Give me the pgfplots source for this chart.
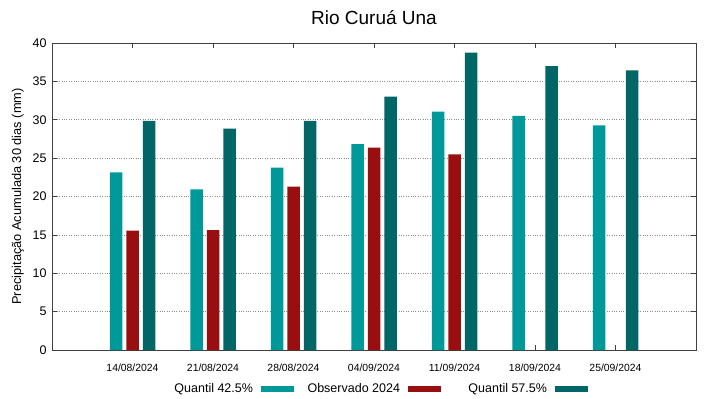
\documentclass[border=0pt]{standalone}
\usepackage{fontspec}
\setmainfont{Liberation Sans}
\usepackage{pgfplots}
\pgfplotsset{compat=1.18}
\definecolor{qlow}{RGB}{0,153,153}
\definecolor{obs}{RGB}{153,15,15}
\definecolor{qhigh}{RGB}{0,102,102}
\begin{document}
\begin{tikzpicture}
\useasboundingbox (-52bp,-49bp) rectangle (667bp,350bp);
\begin{axis}[
  at={(0,0)}, anchor=south west,
  scale only axis, width=644bp, height=307bp,
  xmin=-1, xmax=7, ymin=0, ymax=40,
  xtick={0,1,2,3,4,5,6},
  xticklabels={14/08/2024,21/08/2024,28/08/2024,04/09/2024,11/09/2024,18/09/2024,25/09/2024},
  ytick={0,5,...,40},
  tick align=inside, major tick length=5bp,
  tick style={black!75, line width=0.6pt},
  axis line style={black!75, line width=0.8pt},
  ymajorgrids, grid style={black!45, dotted, line width=0.7pt},
  /pgf/number format/assume math mode=true,
  yticklabel style={font=\fontsize{12.5bp}{14bp}\selectfont, xshift=-2bp},
  xticklabel style={font=\fontsize{10.4bp}{12bp}\selectfont, yshift=-10bp},
  ylabel={Precipitação Acumulada 30 dias (mm)},
  ylabel style={font=\fontsize{12.8bp}{14bp}\selectfont, yshift=2bp},
  title={Rio Curuá Una},
  title style={font=\fontsize{19bp}{21bp}\selectfont, yshift=9bp},
  legend plot pos=right,
  legend columns=3,
  legend style={draw=none, fill=none, at={(322bp,-39bp)}, anchor=center,
    font=\fontsize{12.5bp}{14bp}\selectfont,
    nodes={inner sep=0pt},
    /tikz/every odd column/.append style={column sep=8bp},
    /tikz/every even column/.append style={column sep=13bp}},
  legend image code/.code={\fill[#1] (0bp,-3bp) rectangle (33bp,3bp);},
]
\addplot[ybar, bar width=12.5bp, bar shift=-16.5bp, fill=qlow, draw=none] coordinates {
 (0,23.15) (1,20.93) (2,23.76) (3,26.84) (4,31.05) (5,30.49) (6,29.27)};
\addlegendentry{\makebox[93bp][r]{Quantil 42.5\%}}
\addplot[ybar, bar width=12.5bp, bar shift=0bp, fill=obs, draw=none] coordinates {
 (0,15.55) (1,15.63) (2,21.28) (3,26.36) (4,25.49)};
\addlegendentry{\makebox[93bp][r]{Observado 2024}}
\addplot[ybar, bar width=12.5bp, bar shift=16.5bp, fill=qhigh, draw=none] coordinates {
 (0,29.84) (1,28.84) (2,29.84) (3,33.0) (4,38.74) (5,37.0) (6,36.44)};
\addlegendentry{\makebox[93bp][r]{Quantil 57.5\%}}
\end{axis}
\end{tikzpicture}
\end{document}
